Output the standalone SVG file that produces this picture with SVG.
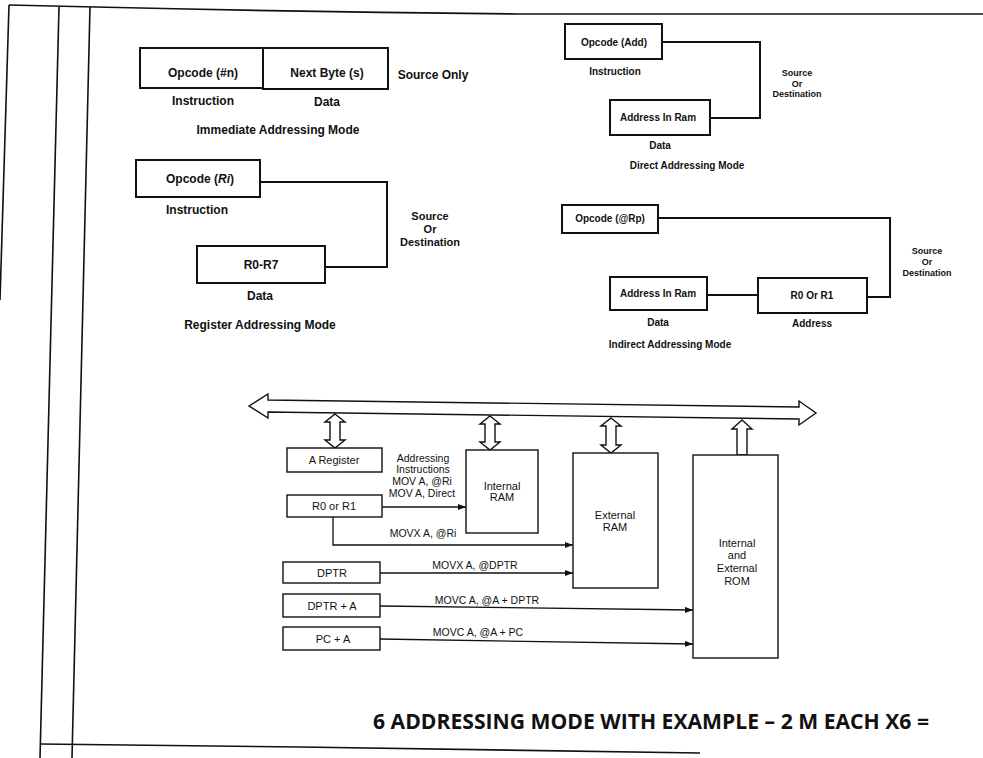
<svg xmlns="http://www.w3.org/2000/svg" width="983" height="758" viewBox="0 0 983 758">
<defs>
<style>
.bg{fill:#fff}
.bx{fill:#fff;stroke:#111;stroke-width:2}
.bx2{fill:#fff;stroke:#111;stroke-width:1.4}
.ln{fill:none;stroke:#111;stroke-width:2}
.ln2{fill:none;stroke:#111;stroke-width:1.3}
.pg{fill:none;stroke:#111;stroke-width:1.6}
.hol{fill:#fff;stroke:#111;stroke-width:1.4;stroke-linejoin:miter}
text{font-family:"Liberation Sans",Arial,sans-serif;fill:#111;text-anchor:middle}
.b12{font-size:12px;font-weight:bold}
.b11{font-size:11px;font-weight:bold}
.b10{font-size:10px;font-weight:bold}
.b9{font-size:9px;font-weight:bold}
.r11{font-size:11px}
.r10{font-size:10.5px}
.title{font-family:"Open Sans","Liberation Sans",sans-serif;font-size:22px;font-weight:bold;text-anchor:start}
</style>
<marker id="ah" markerWidth="8" markerHeight="6" refX="8" refY="3" orient="auto" markerUnits="userSpaceOnUse">
<path d="M0,0 L8,3 L0,6 Z" fill="#111"/>
</marker>
</defs>
<rect class="bg" x="0" y="0" width="983" height="758"/>

<g id="page">
<path class="pg" d="M9,5 L95,7 Q300,12 520,14 L983,14"/>
<path class="pg" d="M9,5 L0,300"/>
<path class="pg" d="M59,7 L40,758"/>
<path class="pg" d="M90,7 L72,758"/>
<path class="pg" d="M40,744 L300,747 L700,753"/>
</g>

<g id="connectors">
<path class="ln" d="M662,42 H760 V118 H710"/>
<path class="ln" d="M260,182 H387 V267 H325"/>
<path class="ln" d="M658,218 H890 V297 H867"/>
<path class="ln" d="M707,295 H758"/>
<path class="ln2" d="M382,507 H466" marker-end="url(#ah)"/>
<path class="ln2" d="M333,517 V545 H573" marker-end="url(#ah)"/>
<path class="ln2" d="M380,573 H573" marker-end="url(#ah)"/>
<path class="ln2" d="M380,606 L693,610" marker-end="url(#ah)"/>
<path class="ln2" d="M380,639 L693,644" marker-end="url(#ah)"/>
</g>

<g id="immediate">
<rect class="bx" x="140" y="48" width="123" height="40"/>
<rect class="bx" x="263" y="48" width="125" height="41"/>
<text class="b12" x="203" y="77">Opcode (#n)</text>
<text class="b12" x="327" y="77">Next Byte (s)</text>
<text class="b12" x="433" y="79">Source Only</text>
<text class="b12" x="203" y="105">Instruction</text>
<text class="b12" x="327" y="106">Data</text>
<text class="b12" x="278" y="134">Immediate Addressing Mode</text>
</g>

<g id="direct">
<rect class="bx" x="565" y="24" width="97" height="35"/>
<text class="b10" x="614" y="46">Opcode (Add)</text>
<text class="b10" x="615" y="75">Instruction</text>
<rect class="bx" x="610" y="100" width="100" height="35"/>
<text class="b10" x="658" y="121">Address In Ram</text>
<text class="b10" x="660" y="149">Data</text>
<text class="b10" x="687" y="169">Direct Addressing Mode</text>
<text class="b9" x="797" y="76">Source</text>
<text class="b9" x="797" y="87">Or</text>
<text class="b9" x="797" y="97">Destination</text>
</g>

<g id="register">
<rect class="bx" x="136" y="160" width="124" height="37"/>
<text class="b12" x="200" y="183">Opcode (<tspan font-style="italic">Ri</tspan>)</text>
<text class="b12" x="197" y="214">Instruction</text>
<rect class="bx" x="197" y="246" width="128" height="37"/>
<text class="b12" x="261" y="269">R0-R7</text>
<text class="b12" x="260" y="300">Data</text>
<text class="b12" x="260" y="329">Register Addressing Mode</text>
<text class="b11" x="430" y="220">Source</text>
<text class="b11" x="430" y="233">Or</text>
<text class="b11" x="430" y="246">Destination</text>
</g>

<g id="indirect">
<rect class="bx" x="562" y="205" width="96" height="28"/>
<text class="b10" x="610" y="222">Opcode (@Rp)</text>
<rect class="bx" x="610" y="277" width="97" height="33"/>
<text class="b10" x="658" y="297">Address In Ram</text>
<text class="b10" x="658" y="326">Data</text>
<rect class="bx" x="758" y="278" width="109" height="35"/>
<text class="b10" x="812" y="299">R0 Or R1</text>
<text class="b10" x="812" y="327">Address</text>
<text class="b10" x="670" y="348">Indirect Addressing Mode</text>
<text class="b9" x="927" y="254">Source</text>
<text class="b9" x="927" y="265">Or</text>
<text class="b9" x="927" y="276">Destination</text>
</g>

<g id="bus">
<path class="hol" d="M249,406 L268,394 L268,400 L799,407 L799,401 L816,413 L799,425 L799,419 L268,412 L268,418 Z"/>
<path class="hol" d="M335,414 L345,422 L340,422 L340,440 L345,440 L335,448 L325,440 L330,440 L330,422 L325,422 Z"/>
<path class="hol" d="M490,416 L500,424 L495,424 L495,442 L500,442 L490,450 L480,442 L485,442 L485,424 L480,424 Z"/>
<path class="hol" d="M611,418 L621,426 L616,426 L616,445 L621,445 L611,453 L601,445 L606,445 L606,426 L601,426 Z"/>
<path class="hol" d="M742,420 L752,429 L747,429 L747,455 L737,455 L737,429 L732,429 Z"/>
</g>

<g id="a-register">
<rect class="bx2" x="287" y="448" width="95" height="24"/>
<text class="r11" x="334" y="464">A Register</text>
</g>
<g id="r0-r1">
<rect class="bx2" x="287" y="495" width="95" height="22"/>
<text class="r11" x="334" y="510">R0 or R1</text>
</g>
<g id="addr-label">
<text class="r10" x="423" y="462">Addressing</text>
<text class="r10" x="423" y="473">Instructions</text>
<text class="r10" x="422" y="485">MOV A, @Ri</text>
<text class="r10" x="422" y="497">MOV A, Direct</text>
<text class="r10" x="423" y="537">MOVX A, @Ri</text>
<text class="r10" x="475" y="569">MOVX A, @DPTR</text>
<text class="r10" x="487" y="604">MOVC A, @A + DPTR</text>
<text class="r10" x="478" y="636">MOVC A, @A + PC</text>
</g>
<g id="internal-ram">
<rect class="bx2" x="466" y="450" width="72" height="83"/>
<text class="r11" x="502" y="490">Internal</text>
<text class="r11" x="502" y="501">RAM</text>
</g>
<g id="external-ram">
<rect class="bx2" x="573" y="453" width="85" height="135"/>
<text class="r11" x="615" y="519">External</text>
<text class="r11" x="615" y="531">RAM</text>
</g>
<g id="rom">
<rect class="bx2" x="693" y="455" width="85" height="203"/>
<text class="r11" x="737" y="547">Internal</text>
<text class="r11" x="737" y="559">and</text>
<text class="r11" x="737" y="572">External</text>
<text class="r11" x="737" y="585">ROM</text>
</g>
<g id="dptr">
<rect class="bx2" x="283" y="562" width="97" height="21"/>
<text class="r11" x="332" y="577">DPTR</text>
</g>
<g id="dptr-a">
<rect class="bx2" x="283" y="594" width="97" height="23"/>
<text class="r11" x="332" y="610">DPTR + A</text>
</g>
<g id="pc-a">
<rect class="bx2" x="283" y="627" width="97" height="23"/>
<text class="r11" x="333" y="643">PC + A</text>
</g>

<text class="title" x="373" y="729" textLength="556" lengthAdjust="spacingAndGlyphs">6 ADDRESSING MODE WITH EXAMPLE  – 2 M EACH X6 =</text>
</svg>
